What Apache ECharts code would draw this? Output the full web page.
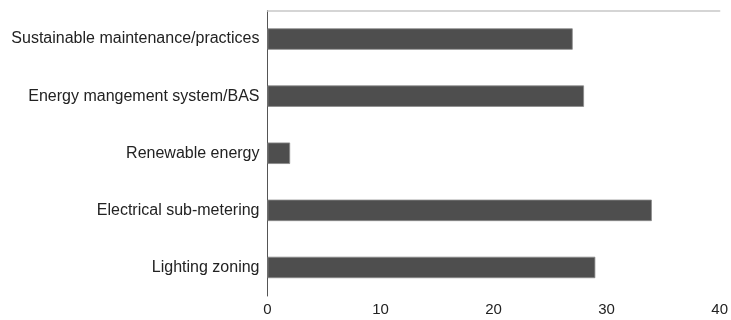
<!DOCTYPE html>
<html>
<head>
<meta charset="utf-8">
<script src="https://cdn.jsdelivr.net/npm/echarts@6/dist/echarts.min.js"></script>
<style>
  html, body { margin: 0; padding: 0; background: #fff; }
  #chart { width: 731px; height: 320px; }
</style>
</head>
<body>
<div id="chart"></div>
<script>
// Categories listed bottom-to-top (category axis starts at the bottom)
const categories = [
  'Lighting zoning',
  'Electrical sub-metering',
  'Renewable energy',
  'Energy mangement system/BAS',
  'Sustainable maintenance/practices'
];
const values = [29, 34, 2, 28, 27];
const xTicks = { min: 0, max: 40, interval: 10 };

const chart = echarts.init(document.getElementById('chart'), null, { renderer: 'canvas' });
chart.setOption({
  animation: false,
  backgroundColor: '#ffffff',
  textStyle: { fontFamily: 'Liberation Sans, Arial, sans-serif' },
  grid: { left: 267.5, right: 9.5, top: 10.5, bottom: 24 },
  xAxis: [
    {
      type: 'value',
      min: xTicks.min, max: xTicks.max, interval: xTicks.interval,
      position: 'bottom',
      axisLine: { show: false },
      axisTick: { show: false },
      splitLine: { show: false },
      axisLabel: { color: '#222', fontSize: 15, margin: 6 }
    },
    {
      type: 'value',
      min: xTicks.min, max: xTicks.max, interval: xTicks.interval,
      position: 'top',
      axisLine: { show: true, lineStyle: { color: '#c8c8c8', width: 1.5 } },
      axisTick: { show: false },
      axisLabel: { show: false },
      splitLine: { show: false }
    }
  ],
  yAxis: {
    type: 'category',
    data: categories,
    axisLine: { show: true, onZero: false, lineStyle: { color: '#555', width: 1 } },
    axisTick: { show: false },
    axisLabel: { color: '#222', fontSize: 16, margin: 8 }
  },
  series: [{
    type: 'bar',
    data: values,
    xAxisIndex: 0,
    barWidth: '37.5%',
    itemStyle: { color: '#4e4e4e', borderColor: '#8a8a8a', borderWidth: 0.8 }
  }]
});
</script>
</body>
</html>
